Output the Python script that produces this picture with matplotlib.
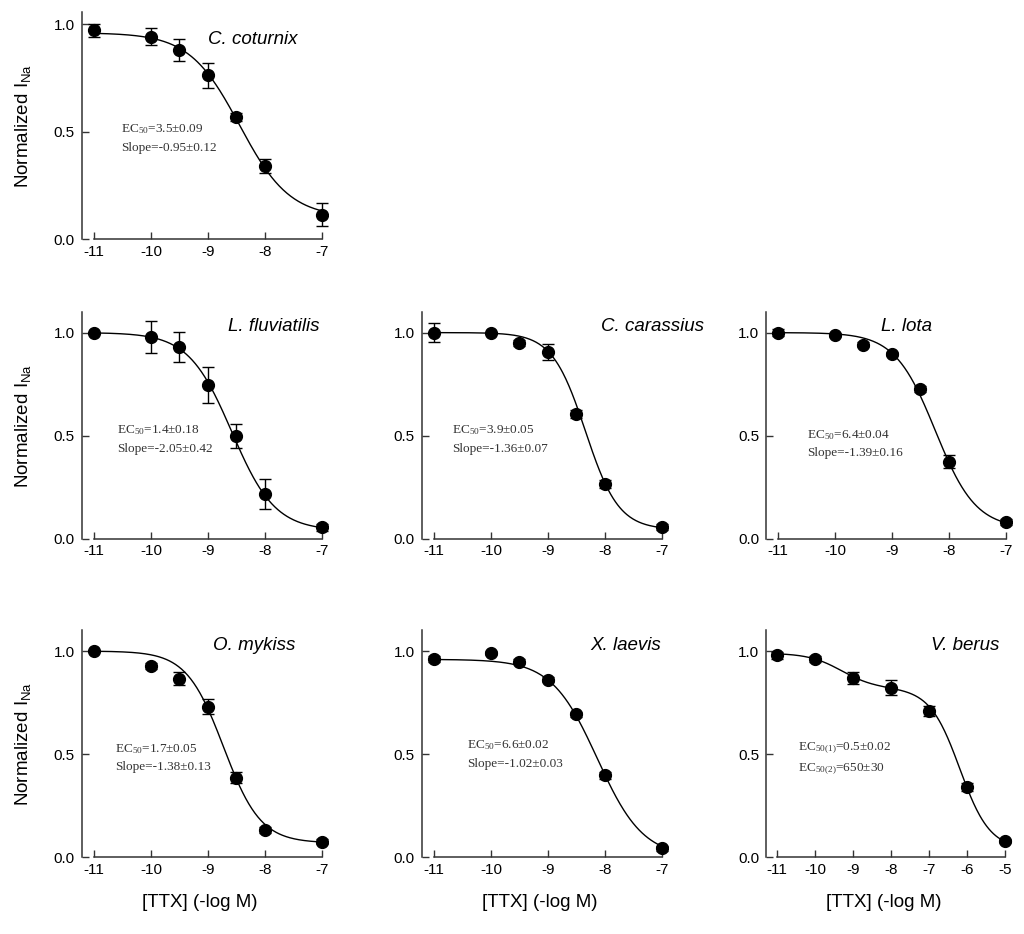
import matplotlib.pyplot as plt
import numpy as np

plt.rcParams["font.family"] = ["Liberation Sans", "DejaVu Sans"]
plt.rcParams["mathtext.default"] = "regular"
plt.rcParams["axes.unicode_minus"] = False

# ---- data ----
species = ["C. coturnix", "L. fluviatilis", "C. carassius", "L. lota",
           "O. mykiss", "X. laevis", "V. berus"]

log_conc = [-11, -10, -9.5, -9, -8.5, -8, -7]
log_conc_berus = [-11, -10, -9, -8, -7, -6, -5]

i_coturnix = [0.972, 0.942, 0.879, 0.762, 0.569, 0.339, 0.114]
err_coturnix = [0.031, 0.040, 0.050, 0.058, 0.019, 0.033, 0.053]

i_fluviatilis = [1.0, 0.979, 0.931, 0.746, 0.499, 0.217, 0.056]
err_fluviatilis = [0.0, 0.077, 0.074, 0.087, 0.058, 0.072, 0.018]

i_carassius = [1.0, 1.0, 0.951, 0.906, 0.607, 0.265, 0.057]
err_carassius = [0.045, 0.0, 0.015, 0.039, 0.02, 0.02, 0.016]

i_lota = [1.0, 0.99, 0.942, 0.895, 0.725, 0.374, 0.081]
err_lota = [0.015, 0.01, 0.013, 0.01, 0.015, 0.032, 0.015]

i_mykiss = [1.0, 0.927, 0.866, 0.731, 0.387, 0.132, 0.076]
err_mykiss = [0.0, 0.015, 0.032, 0.035, 0.025, 0.015, 0.012]

i_laevis = [0.963, 0.992, 0.948, 0.86, 0.694, 0.398, 0.044]
err_laevis = [0.015, 0.01, 0.012, 0.012, 0.012, 0.018, 0.012]

i_berus = [0.979, 0.96, 0.871, 0.823, 0.71, 0.342, 0.081]
err_berus = [0.015, 0.015, 0.03, 0.035, 0.025, 0.02, 0.01]

# fitted Hill parameters: top, bottom, log EC50, Hill coefficient
fit_coturnix = [0.96, 0.10, -8.445, 0.985]
fit_fluviatilis = [1.0, 0.04, -8.583, 1.144]
fit_carassius = [1.0, 0.045, -8.342, 1.49]
fit_lota = [1.0, 0.05, -8.24, 1.224]
fit_mykiss = [1.0, 0.07, -8.726, 1.336]
fit_laevis = [0.96, 0.0, -8.135, 1.081]
# two-site fit for V. berus: bottom, amp1, logEC50(1), n1, amp2, logEC50(2), n2
fit_berus = [0.04, 0.17, -9.30, 1.0, 0.78, -6.187, 1.1]

notes = ["EC$_{50}$=3.5\u00b10.09\nSlope=-0.95\u00b10.12",
         "EC$_{50}$=1.4\u00b10.18\nSlope=-2.05\u00b10.42",
         "EC$_{50}$=3.9\u00b10.05\nSlope=-1.36\u00b10.07",
         "EC$_{50}$=6.4\u00b10.04\nSlope=-1.39\u00b10.16",
         "EC$_{50}$=1.7\u00b10.05\nSlope=-1.38\u00b10.13",
         "EC$_{50}$=6.6\u00b10.02\nSlope=-1.02\u00b10.03",
         "EC$_{50(1)}$=0.5\u00b10.02\nEC$_{50(2)}$=650\u00b130"]


def hill(x, top, bottom, x50, n):
    return bottom + (top - bottom) / (1 + 10 ** (n * (x - x50)))


def two_site(x, bottom, a1, x1, n1, a2, x2, n2):
    return bottom + a1 / (1 + 10 ** (n1 * (x - x1))) + a2 / (1 + 10 ** (n2 * (x - x2)))


# layout: (left, bottom) of each panel in figure coords
W, H = 0.240, 0.243
positions = [(0.080, 0.744), (0.080, 0.423), (0.412, 0.423), (0.748, 0.423),
             (0.080, 0.082), (0.412, 0.082), (0.748, 0.082)]
label_x = [0.695, 0.78, 0.94, 0.57, 0.70, 0.83, 0.81]
note_pos = [(0.159, 0.445), (0.142, 0.44), (0.122, 0.44), (0.167, 0.42),
            (0.134, 0.44), (0.183, 0.455), (0.13, 0.435)]

values = [i_coturnix, i_fluviatilis, i_carassius, i_lota, i_mykiss, i_laevis, i_berus]
errors = [err_coturnix, err_fluviatilis, err_carassius, err_lota, err_mykiss, err_laevis, err_berus]
fits = [fit_coturnix, fit_fluviatilis, fit_carassius, fit_lota, fit_mykiss, fit_laevis]

fig = plt.figure(figsize=(10.24, 9.34), dpi=100)
spine_col = "#333333"

for k, name in enumerate(species):
    ax = fig.add_axes([positions[k][0], positions[k][1], W, H])
    if k == 6:
        xs = log_conc_berus
        xx = np.linspace(-11, -5, 300)
        yy = two_site(xx, *fit_berus)
        ax.set_xlim(-11.29, -4.82)
    else:
        xs = log_conc
        xx = np.linspace(-11, -7, 300)
        yy = hill(xx, *fits[k])
        ax.set_xlim(-11.21, -6.9)
    ytop = 1.056 if k == 0 else 1.1
    ax.set_ylim(0, ytop)

    ax.plot(xx, yy, color="black", lw=1.0, zorder=2)
    ax.errorbar(xs, values[k], yerr=errors[k], fmt="o", color="black",
                ms=8.5, elinewidth=1.0, capsize=4.5, capthick=1.0, zorder=3)

    for s in ["top", "right"]:
        ax.spines[s].set_visible(False)
    for s in ["left", "bottom"]:
        ax.spines[s].set_color(spine_col)
        ax.spines[s].set_linewidth(1.1)
    ax.spines["left"].set_bounds(0, ytop)
    ax.spines["bottom"].set_bounds(xs[0], xs[-1])

    ticks = list(range(int(xs[0]), int(xs[-1]) + 1))
    ax.set_xticks(ticks)
    ax.set_xticklabels([str(t) for t in ticks])
    ax.set_yticks([0, 0.5, 1.0])
    ax.set_yticklabels(["0.0", "0.5", "1.0"])
    ax.tick_params(direction="in", length=5, width=1.0, color=spine_col,
                   labelsize=11)
    ax.tick_params(axis="x", pad=4)
    ax.tick_params(axis="y", pad=5)

    ax.text(label_x[k], 0.88 if k == 0 else 0.935, name, transform=ax.transAxes,
            ha="center", va="center", style="italic", fontsize=13.5)
    ax.text(note_pos[k][0], note_pos[k][1], notes[k], transform=ax.transAxes,
            ha="left", va="center", fontsize=9.5, family="Liberation Serif",
            color="#333333", linespacing=1.6)

    if k in (0, 1, 4):
        ax.set_ylabel("Normalized I$_{Na}$", fontsize=13.5)
        ax.yaxis.set_label_coords(-0.2, 0.5)
    if k >= 4:
        ax.set_xlabel("[TTX] (-log M)", fontsize=13.5)
        ax.xaxis.set_label_coords(0.48, -0.16)

fig.savefig("out.png", dpi=100)
